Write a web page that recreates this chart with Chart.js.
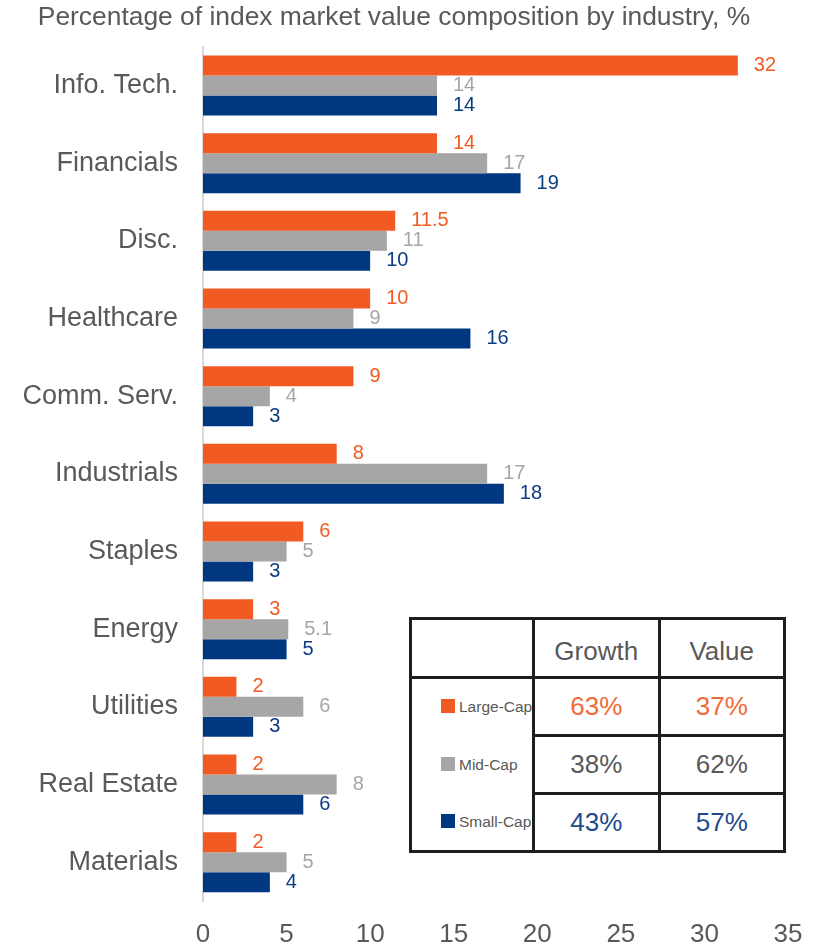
<!DOCTYPE html>
<html>
<head>
<meta charset="utf-8">
<script src="https://cdn.jsdelivr.net/npm/chart.js@4.4.1/dist/chart.umd.min.js"></script>
<style>
  body { margin: 0; background: #fff; font-family: "Liberation Sans", Arial, sans-serif; }
  #wrap { position: relative; width: 831px; height: 948px; }
  #mix { position: absolute; left: 409px; top: 617px; width: 377px; height: 232px;
         border-collapse: collapse; table-layout: fixed; background: #fff; }
  #mix td { border: 3px solid #1e1e1e; padding: 0; text-align: center; font-size: 26px; color: #595959; overflow: hidden; white-space: nowrap; }
  #mix td.leg { border-top: none; border-bottom: none; text-align: left; font-size: 15.5px; padding-left: 29px; }
  #mix tr.last td.leg { border-bottom: 3px solid #1e1e1e; }
  #mix tr.first td.leg { border-top: 3px solid #1e1e1e; }
  .sq { display: inline-block; width: 14px; height: 14px; margin-right: 4px; vertical-align: -1px; }
</style>
</head>
<body>
<div id="wrap">
  <canvas id="c" width="831" height="948"></canvas>
  <table id="mix"></table>
</div>
<script>
const categories = ['Info. Tech.', 'Financials', 'Disc.', 'Healthcare', 'Comm. Serv.', 'Industrials',
  'Staples', 'Energy', 'Utilities', 'Real Estate', 'Materials'];
const largeCap = [32, 14, 11.5, 10, 9, 8, 6, 3, 2, 2, 2];
const midCap = [14, 17, 11, 9, 4, 17, 5, 5.1, 6, 8, 5];
const smallCap = [14, 19, 10, 16, 3, 18, 3, 5, 3, 6, 4];
const seriesNames = ['Large-Cap', 'Mid-Cap', 'Small-Cap'];
const seriesColors = ['#F15A22', '#A6A6A6', '#003781'];
const labelColors = ['#F15A22', '#A6A6A6', '#0B3C82'];

// style table on the right
const styleCols = ['Growth', 'Value'];
const growthShare = ['63%', '38%', '43%'];
const valueShare = ['37%', '62%', '57%'];
const shareColors = ['#F26A36', '#595959', '#1F4A8C'];

const tbl = document.getElementById('mix');
let html = '<tr style="height:59px"><td style="width:120px"></td>' +
  styleCols.map(s => `<td style="padding-top:6px">${s}</td>`).join('') + '</tr>';
seriesNames.forEach((n, i) => {
  const cls = i === 0 ? 'first' : (i === 2 ? 'last' : '');
  html += `<tr class="${cls}" style="height:58px">
    <td class="leg"><span class="sq" style="background:${seriesColors[i]}"></span>${n}</td>
    <td style="color:${shareColors[i]}">${growthShare[i]}</td>
    <td style="color:${shareColors[i]}">${valueShare[i]}</td></tr>`;
});
tbl.innerHTML = html;

const valueLabels = {
  id: 'valueLabels',
  afterDatasetsDraw(chart) {
    const ctx = chart.ctx;
    ctx.save();
    ctx.font = '20px "Liberation Sans", Arial, sans-serif';
    ctx.textBaseline = 'middle';
    ctx.textAlign = 'left';
    chart.data.datasets.forEach((ds, i) => {
      ctx.fillStyle = labelColors[i];
      chart.getDatasetMeta(i).data.forEach((bar, j) => {
        ctx.fillText(String(ds.data[j]), bar.x + 16, bar.y);
      });
    });
    ctx.restore();
  }
};

new Chart(document.getElementById('c'), {
  type: 'bar',
  data: {
    labels: categories,
    datasets: [largeCap, midCap, smallCap].map((d, i) => ({
      label: seriesNames[i],
      data: d,
      backgroundColor: seriesColors[i],
      barPercentage: 1,
      categoryPercentage: 0.772
    }))
  },
  options: {
    indexAxis: 'y',
    responsive: false,
    animation: false,
    layout: { padding: { left: 0, right: 43, top: 0, bottom: 0 } },
    plugins: {
      legend: { display: false },
      tooltip: { enabled: false },
      title: {
        display: true,
        text: 'Percentage of index market value composition by industry, %',
        color: '#595959',
        font: { size: 26.4, weight: 'normal', family: '"Liberation Sans", Arial, sans-serif' },
        padding: { top: 2, bottom: 13 }
      }
    },
    scales: {
      x: {
        min: 0, max: 35,
        ticks: { stepSize: 5, color: '#595959', padding: 18,
          font: { size: 26, family: '"Liberation Sans", Arial, sans-serif' } },
        grid: { display: false, drawTicks: false },
        border: { display: false },
        afterFit(s) { s.height = 47; }
      },
      y: {
        ticks: { color: '#595959', padding: 25,
          font: { size: 27, family: '"Liberation Sans", Arial, sans-serif' } },
        grid: { display: false, drawTicks: false },
        border: { display: true, color: '#D9D9D9', width: 2 },
        afterFit(s) { s.width = 203; }
      }
    }
  },
  plugins: [valueLabels]
});
</script>
</body>
</html>
